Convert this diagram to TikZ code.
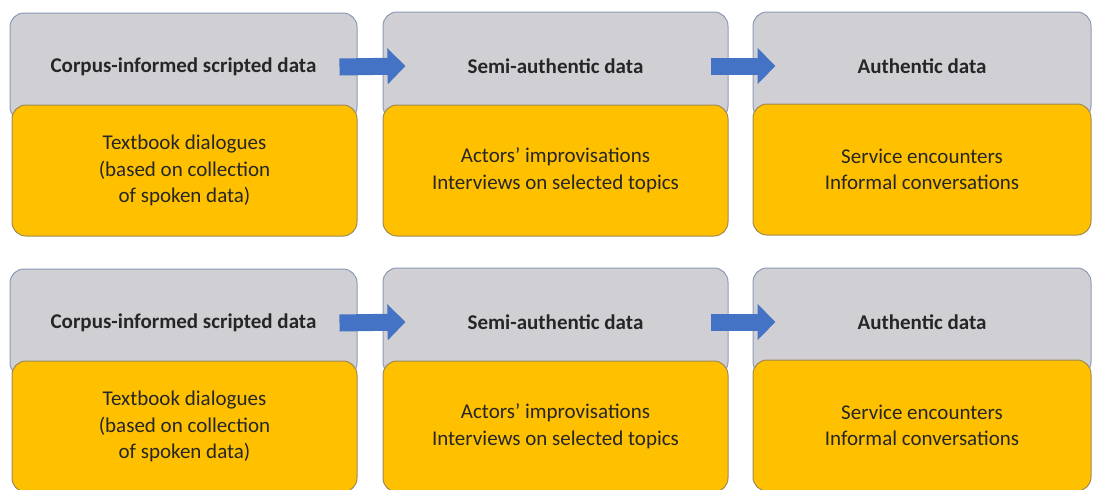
\documentclass[tikz,border=0pt]{standalone}
\usepackage{fontspec}
\setmainfont{Carlito}
\usetikzlibrary{arrows.meta}

\definecolor{hdrgray}{HTML}{D0D0D4}
\definecolor{hdrline}{HTML}{8C9AB8}
\definecolor{gold}{HTML}{FFC000}
\definecolor{goldline}{HTML}{9E8A56}
\definecolor{flowblue}{HTML}{4472C4}
\definecolor{ink}{HTML}{262626}

\begin{document}
\begin{tikzpicture}[
    x=0.5pt, y=-0.5pt,
    header/.style={draw=hdrline,fill=hdrgray,rounded corners=7pt,line width=0.5pt,
        minimum height=54pt,text=ink,font=\fontsize{10.5}{12.5}\selectfont\bfseries},
    detail/.style={draw=goldline,fill=gold,rounded corners=7pt,line width=0.5pt,
        minimum height=65.5pt,align=center,text=ink,font=\fontsize{10.5}{13.25}\selectfont},
    flow/.style={draw=flowblue,line width=8.5pt,-{Triangle[width=17.5pt,length=9pt]}}
]

\useasboundingbox (0,0) rectangle (1093,489);
\clip (0,0) rectangle (1093,489);

% upper row
\node[header,minimum width=173.5pt] (H1) at (183.5,67) {Corpus-informed scripted data};
\node[header,minimum width=172.5pt] (H2) at (555.5,66) {Semi-authentic data};
\node[header,minimum width=169pt] (H3) at (922,66) {Authentic data};

\node[detail,minimum width=172.5pt] (D1) at (184.5,170.5) {Textbook dialogues\\(based on collection\\of spoken data)};
\node[detail,minimum width=172.5pt] (D2) at (555.5,170.5) {Actors' improvisations\\Interviews on selected topics};
\node[detail,minimum width=169pt] (D3) at (922,169.5) {Service encounters\\Informal conversations};

\draw[flow] ([xshift=-9pt]H1.east) -- ([xshift=11.5pt]H2.west);
\draw[flow] ([xshift=-9pt]H2.east) -- ([xshift=11.5pt]H3.west);

% lower row
\node[header,minimum width=173.5pt] (H4) at (183.5,323) {Corpus-informed scripted data};
\node[header,minimum width=172.5pt] (H5) at (555.5,322) {Semi-authentic data};
\node[header,minimum width=169pt] (H6) at (922,322) {Authentic data};

\node[detail,minimum width=172.5pt] (D4) at (184.5,426.5) {Textbook dialogues\\(based on collection\\of spoken data)};
\node[detail,minimum width=172.5pt] (D5) at (555.5,426.5) {Actors' improvisations\\Interviews on selected topics};
\node[detail,minimum width=169pt] (D6) at (922,425.5) {Service encounters\\Informal conversations};

\draw[flow] ([xshift=-9pt]H4.east) -- ([xshift=11.5pt]H5.west);
\draw[flow] ([xshift=-9pt]H5.east) -- ([xshift=11.5pt]H6.west);

\end{tikzpicture}
\end{document}
